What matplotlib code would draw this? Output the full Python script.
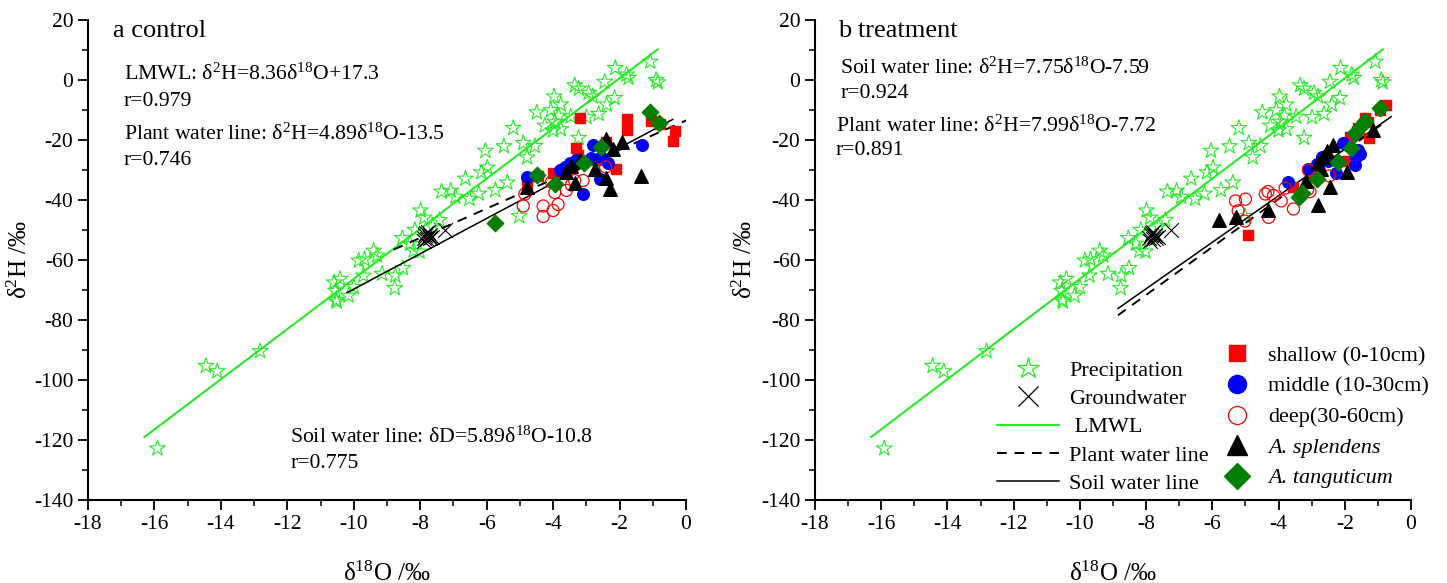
import matplotlib
matplotlib.use("Agg")
import matplotlib.pyplot as plt
from matplotlib.lines import Line2D
import numpy as np

plt.rcParams['font.family'] = ['Liberation Serif', 'DejaVu Serif']
plt.rcParams['mathtext.fontset'] = 'custom'
plt.rcParams['mathtext.rm'] = 'Liberation Serif'
plt.rcParams['mathtext.it'] = 'Liberation Serif:italic'
plt.rcParams['axes.unicode_minus'] = False

# ---------------- precipitation (shared by both panels) ----------------
precip_o = [-15.91, -14.45, -14.11, -12.82,
            -10.59, -10.41, -10.55, -10.53, -10.16, -10.00, -10.51,
            -9.85, -9.68, -9.40, -9.30, -9.71, -9.15, -8.75, -8.77, -8.52,
            -7.99, -7.88, -7.42, -8.16, -8.54, -8.31, -8.02, -8.20, -7.62,
            -7.36, -7.08, -6.94, -6.52, -6.24, -6.64, -6.16, -5.98, -6.04,
            -5.74, -5.38, -5.02, -5.48, -5.20, -4.90, -4.55, -4.78,
            -4.49, -4.07, -3.83, -3.77, -4.25, -3.95, -3.77, -4.00, -3.47, -3.97,
            -3.35, -3.23, -2.93, -2.81, -2.99, -3.23,
            -2.45, -2.15, -2.39, -2.63, -2.13, -1.79, -1.73,
            -1.08, -0.90, -0.85]
precip_h = [-122.8, -95.3, -97.1, -90.4,
            -67.5, -66.3, -70.3, -73.4, -71.9, -69.0, -73.9,
            -60.2, -59.8, -56.9, -58.5, -65.2, -64.6, -65.2, -69.4, -62.7,
            -43.5, -45.9, -46.7, -50.0, -52.7, -54.6, -57.2, -56.9, -48.8,
            -37.2, -36.9, -38.9, -39.6, -37.9, -32.9, -30.8, -29.2, -23.6,
            -36.7, -34.2, -45.4, -22.1, -16.0, -21.0, -22.0, -25.8,
            -10.8, -10.1, -11.9, -8.2, -15.2, -13.9, -16.4, -16.8, -12.2, -5.5,
            -1.8, -2.9, -4.3, -5.5, -12.4, -19.3,
            -0.6, -6.0, -8.2, -11.3, 4.0, 1.8, 0.7,
            6.1, 0.0, -0.8]

# ---------------- groundwater (shared) ----------------
ground_o = [-7.90, -7.85, -7.80, -7.75, -7.70, -7.82, -7.88, -7.72, -7.65, -7.78, -7.25]
ground_h = [-52.5, -51.5, -53.0, -52.0, -52.8, -51.0, -53.5, -51.8, -52.2, -50.5, -50.0]

# ---------------- panel a: control ----------------
shallow_a_o = [-3.20, -1.78, -1.77, -1.05, -0.78, -0.33, -0.40, -2.10, -2.40, -3.30, -3.25, -4.00, -4.45, -4.80, -2.70]
shallow_a_h = [-12.5, -13.0, -16.5, -13.5, -14.5, -17.0, -20.3, -29.5, -20.5, -22.5, -25.0, -31.0, -32.0, -35.0, -26.5]
middle_a_o = [-2.80, -1.33, -3.09, -2.60, -4.80, -3.65, -3.50, -3.30, -2.85, -2.55, -2.35, -3.80]
middle_a_h = [-21.5, -21.8, -38.0, -33.0, -32.3, -29.0, -27.5, -26.5, -26.0, -25.5, -27.5, -30.0]
deep_a_o = [-4.85, -4.90, -4.30, -4.30, -4.00, -3.85, -3.95, -3.60, -3.45, -3.35, -3.10, -2.42, -4.05]
deep_a_h = [-38.0, -42.0, -42.0, -45.5, -43.5, -41.5, -37.5, -36.8, -35.0, -33.5, -33.5, -29.0, -34.0]
splend_a_o = [-4.80, -3.35, -2.30, -1.35, -2.40, -2.75, -2.40, -1.92, -2.20, -3.20, -3.45, -3.60]
splend_a_h = [-35.5, -34.2, -36.3, -32.0, -32.7, -29.8, -19.5, -20.7, -23.0, -26.8, -28.5, -30.5]
tang_a_o = [-1.07, -0.82, -2.57, -3.07, -4.50, -3.95, -5.75]
tang_a_h = [-10.5, -14.4, -22.3, -27.5, -31.7, -34.5, -47.5]

# ---------------- panel b: treatment ----------------
shallow_b_o = [-0.75, -0.95, -1.40, -1.30, -1.28, -1.85, -1.97, -3.00, -3.55, -4.92, -1.60]
shallow_b_h = [-8.2, -10.0, -12.5, -14.0, -19.3, -19.0, -27.0, -31.5, -35.5, -51.8, -16.0]
middle_b_o = [-2.05, -1.60, -1.65, -1.68, -1.55, -2.27, -2.70, -3.10, -3.72, -2.50, -2.85]
middle_b_h = [-21.0, -23.3, -25.5, -28.3, -24.5, -31.0, -25.5, -29.5, -34.0, -27.0, -28.0]
deep_b_o = [-5.30, -5.00, -5.22, -5.02, -4.40, -4.32, -4.15, -4.30, -3.92, -3.80, -3.55, -3.12, -3.05, -2.47, -3.10]
deep_b_h = [-40.3, -39.7, -43.6, -47.0, -38.0, -37.2, -38.5, -45.8, -40.3, -36.0, -43.0, -36.5, -37.2, -32.0, -30.0]
splend_b_o = [-5.80, -5.30, -4.32, -3.17, -2.82, -2.46, -1.92, -1.15, -2.35, -2.55, -2.80, -2.72, -2.65]
splend_b_h = [-46.8, -45.7, -43.3, -33.5, -41.8, -35.5, -30.5, -16.8, -21.5, -23.5, -27.8, -29.5, -25.5]
tang_b_o = [-0.95, -1.38, -1.55, -1.70, -1.80, -2.20, -2.85, -3.30, -3.38]
tang_b_h = [-9.3, -13.8, -15.8, -17.8, -22.5, -27.3, -33.0, -37.5, -39.0]

# ---------------- regression lines: (slope, intercept, x start, x end) ----------------
lmwl = (8.36, 17.3, -16.3, -0.85)
plant_a = (4.89, -13.5, -8.8, 0.15)
soil_a = (5.89, -10.8, -10.2, -0.4)
plant_b = (7.99, -7.72, -8.85, -0.9)
soil_b = (7.75, -7.59, -8.85, -0.6)

STAR_C = '#22ee22'
LINE_C = '#22ee22'


def reg_line(ax, params, **kw):
    k, b, x0, x1 = params
    xs = np.array([x0, x1])
    ax.plot(xs, k * xs + b, **kw)


def draw_panel(ax, samples, plant, soil, ylab_x):
    ax.scatter(precip_o, precip_h, marker='*', s=140, facecolors='none',
               edgecolors=STAR_C, linewidths=0.8, zorder=2)
    reg_line(ax, lmwl, color=LINE_C, lw=1.5, zorder=3)
    reg_line(ax, plant, color='black', lw=1.4, ls=(0, (5, 4)), zorder=3)
    reg_line(ax, soil, color='black', lw=1.1, zorder=3)
    ax.scatter(ground_o, ground_h, marker='x', s=110, color='black',
               linewidths=0.8, zorder=4)
    (sh_o, sh_h), (mi_o, mi_h), (de_o, de_h), (sp_o, sp_h), (ta_o, ta_h) = samples
    ax.scatter(sh_o, sh_h, marker='s', s=60, color='#ff0000', zorder=4)
    ax.scatter(mi_o, mi_h, marker='o', s=70, color='#0000ff', zorder=4)
    ax.scatter(de_o, de_h, marker='o', s=75, facecolors='none',
               edgecolors='#ff0000', linewidths=0.9, zorder=4)
    ax.scatter(sp_o, sp_h, marker='^', s=95, color='black', zorder=5)
    ax.scatter(ta_o, ta_h, marker='D', s=70, color='#008000', zorder=5)

    ax.set_xlim(-18, 0)
    ax.set_ylim(-140, 20)
    ax.set_xticks(np.arange(-18, 0.1, 2))
    ax.set_xticks(np.arange(-18, 0.1, 1), minor=True)
    ax.set_yticks(np.arange(-140, 20.1, 20))
    ax.set_yticks(np.arange(-140, 20.1, 10), minor=True)
    ax.spines['top'].set_visible(False)
    ax.spines['right'].set_visible(False)
    for s in ('left', 'bottom'):
        ax.spines[s].set_linewidth(1.5)
    ax.tick_params(which='major', direction='out', length=7, width=1.3, labelsize=15.5)
    ax.tick_params(which='minor', direction='out', length=4, width=1.1)
    ax.set_xlabel('δ$^{18}$O /‰', fontsize=18, labelpad=20)
    ax.set_ylabel('δ$^{2}$H /‰', fontsize=18)
    ax.yaxis.set_label_coords(ylab_x, 0.5)


fig = plt.figure(figsize=(14.47, 5.83), dpi=100)
ax_a = fig.add_axes([88 / 1447, 1 - 500 / 583, 598 / 1447, 480 / 583])
ax_b = fig.add_axes([815 / 1447, 1 - 500 / 583, 596 / 1447, 480 / 583])

draw_panel(ax_a, [(shallow_a_o, shallow_a_h), (middle_a_o, middle_a_h),
                  (deep_a_o, deep_a_h), (splend_a_o, splend_a_h),
                  (tang_a_o, tang_a_h)], plant_a, soil_a, -0.093)
draw_panel(ax_b, [(shallow_b_o, shallow_b_h), (middle_b_o, middle_b_h),
                  (deep_b_o, deep_b_h), (splend_b_o, splend_b_h),
                  (tang_b_o, tang_b_h)], plant_b, soil_b, -0.097)

# panel annotations
ta = ax_a.transAxes
ax_a.text(0.042, 0.978, 'a control', transform=ta, fontsize=19, va='center')
ax_a.text(0.060, 0.8875, 'LMWL: δ$^{2}$H=8.36δ$^{18}$O+17.3', transform=ta, fontsize=15.7, va='center')
ax_a.text(0.060, 0.831, 'r=0.979', transform=ta, fontsize=15.7, va='center')
ax_a.text(0.060, 0.7625, 'Plant water line: δ$^{2}$H=4.89δ$^{18}$O-13.5', transform=ta, fontsize=15.7, va='center')
ax_a.text(0.060, 0.708, 'r=0.746', transform=ta, fontsize=15.7, va='center')
ax_a.text(0.338, 0.131, 'Soil water line: δD=5.89δ$^{18}$O-10.8', transform=ta, fontsize=15.7, va='center')
ax_a.text(0.338, 0.075, 'r=0.775', transform=ta, fontsize=15.7, va='center')

tb = ax_b.transAxes
ax_b.text(0.039, 0.978, 'b treatment', transform=tb, fontsize=19, va='center')
ax_b.text(0.042, 0.900, 'Soil water line: δ$^{2}$H=7.75δ$^{18}$O-7.59', transform=tb, fontsize=15.7, va='center')
ax_b.text(0.042, 0.846, 'r=0.924', transform=tb, fontsize=15.7, va='center')
ax_b.text(0.035, 0.779, 'Plant water line: δ$^{2}$H=7.99δ$^{18}$O-7.72', transform=tb, fontsize=15.7, va='center')
ax_b.text(0.035, 0.729, 'r=0.891', transform=tb, fontsize=15.7, va='center')

# legend, two separate columns
h1 = [Line2D([], [], ls='none', marker='*', ms=16, mfc='none', mec=STAR_C, mew=0.9),
      Line2D([], [], ls='none', marker='x', ms=15, color='black', mew=0.9),
      Line2D([], [], color=LINE_C, lw=1.5),
      Line2D([], [], color='black', lw=1.4, ls=(0, (5, 4))),
      Line2D([], [], color='black', lw=1.1)]
l1 = ['Precipitation', 'Groundwater', ' LMWL', 'Plant water line', 'Soil water line']
leg1 = ax_b.legend(h1, l1, loc='upper left', bbox_to_anchor=(0.290, 0.31),
                   frameon=False, fontsize=16, handlelength=2.8,
                   handletextpad=0.45, labelspacing=0.35, borderaxespad=0)
ax_b.add_artist(leg1)

h2 = [Line2D([], [], ls='none', marker='s', ms=12, color='#ff0000'),
      Line2D([], [], ls='none', marker='o', ms=13, color='#0000ff'),
      Line2D([], [], ls='none', marker='o', ms=13, mfc='none', mec='#ff0000', mew=0.9),
      Line2D([], [], ls='none', marker='^', ms=14, color='black'),
      Line2D([], [], ls='none', marker='D', ms=13, color='#008000')]
l2 = ['shallow (0-10cm)', 'middle (10-30cm)', 'deep(30-60cm)', 'A. splendens', 'A. tanguticum']
leg2 = ax_b.legend(h2, l2, loc='upper left', bbox_to_anchor=(0.671, 0.34),
                   frameon=False, fontsize=16, handlelength=1.2,
                   handletextpad=0.8, labelspacing=0.45, borderaxespad=0)
for t in leg2.get_texts()[3:]:
    t.set_fontstyle('italic')

fig.savefig('out.png', dpi=100)
